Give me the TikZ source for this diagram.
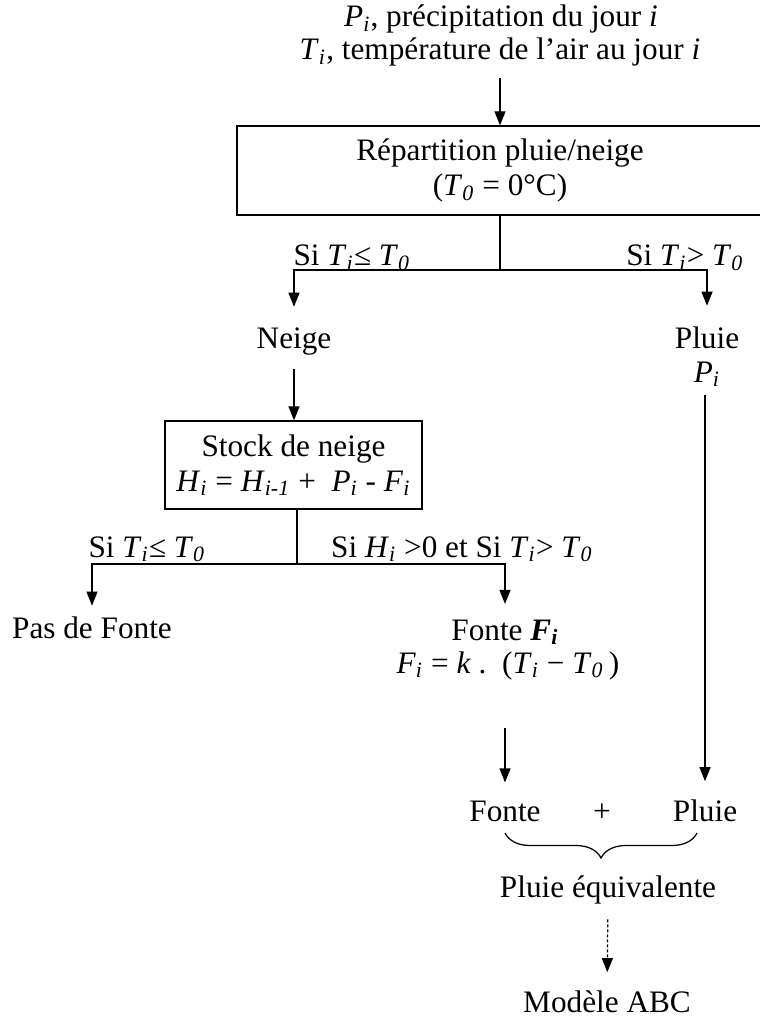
\documentclass[tikz,border=0pt]{standalone}
\usepackage{fontspec}
\setmainfont{Liberation Serif}
\usetikzlibrary{arrows.meta,decorations.pathreplacing}
\newcommand{\sbi}[1]{\textsubscript{\textit{#1}}}
\newcommand{\Tvi}{\textit{T}\sbi{i}}
\newcommand{\Tvz}{\textit{T}\sbi{0}}
\begin{document}
\begin{tikzpicture}[x=.4pt,y=-.4pt,line width=.5pt,>={Triangle[width=4.4pt,length=5.6pt]},
  font=\fontsize{12.5}{14}\selectfont,
  txt/.style={inner sep=0pt,align=center},
  stepbox/.style={draw,inner sep=0pt,align=center}]
\useasboundingbox (0,0) rectangle (759,1018);
% entrees
\node[txt,anchor=base] (precip) at (501,27) {\textit{P}\sbi{i}, précipitation du jour \textit{i}};
\node[txt,anchor=base] (temp) at (500,60) {\Tvi, température de l’air au jour \textit{i}};
\node[stepbox,minimum width=210.4pt,minimum height=35.6pt] (split) at (500,170.5) {Répartition pluie/neige\\(\Tvz{} = 0°C)};
\coordinate (in) at (500,78);
\draw[->] (in) -- (in |- split.north);
% neige / pluie
\coordinate (f1) at (500,270);
\draw (split.south -| f1) -- (f1);
\node[txt,anchor=base] (neige) at (294,348) {Neige};
\node[txt,anchor=base] (pluie) at (707,348) {Pluie};
\node[txt,anchor=base] (pluiep) at (707,382) {\textit{P}\sbi{i}};
\draw[->,shorten >=8pt] (f1) -| (neige);
\draw[->,shorten >=8pt] (f1) -| (pluie);
\node[txt,anchor=base] at (352,266) {Si \Tvi≤ \Tvz};
\node[txt,anchor=base] at (685,266) {Si \Tvi> \Tvz};
% stock
\node[stepbox,minimum width=102.8pt,minimum height=35.2pt] (stock) at (293.5,465) {Stock de neige\\\textit{H}\sbi{i} = \textit{H}\sbi{i-1} +\ \ \textit{P}\sbi{i} - \textit{F}\sbi{i}};
\draw[->] (neige.south) ++(0,14) coordinate (n1) -- (n1 |- stock.north);
\coordinate (f2) at (297,564);
\draw (stock.south -| f2) -- (f2);
\node[txt,anchor=base] (pasfonte) at (92,638) {Pas de Fonte};
\node[txt,anchor=base] (fonte) at (505,640) {Fonte \textbf{\textit{F}\sbi{i}}};
\node[txt,anchor=base] (formule) at (508,673) {\textit{F}\sbi{i} = \textit{k} .\ \ (\Tvi{} − \Tvz\,)};
\draw[->,shorten >=4pt] (f2) -| (pasfonte);
\draw[->,shorten >=6pt] (f2) -| (fonte);
\node[txt,anchor=base] at (147,557) {Si \Tvi≤ \Tvz};
\node[txt,anchor=base] at (462,557) {Si \textit{H}\sbi{i} >0 et Si \Tvi> \Tvz};
% pluie equivalente
\node[txt,anchor=base] (fonteb) at (505,821) {Fonte};
\node[txt,anchor=base] (plus) at (602,821) {+};
\node[txt,anchor=base] (pluieb) at (705,821) {Pluie};
\coordinate (g1) at (505,728);
\draw[->,shorten >=7pt] (g1) -- (fonteb);
\draw[->,shorten >=7pt] (pluiep.south -| pluieb) ++(0,8) -- (pluieb);
\draw[decorate,decoration={brace,mirror,amplitude=10pt}] (505,833) coordinate (b1) -- (697,833) coordinate (b2);
\node[txt,anchor=base] (equiv) at (608,897) {Pluie équivalente};
\node[txt,anchor=base] (abc) at (607,1012) {Modèle ABC};
\draw[->,dash pattern=on 1.2pt off .8pt,shorten <=6pt,shorten >=7pt] (equiv) -- (abc);
\end{tikzpicture}
\end{document}
